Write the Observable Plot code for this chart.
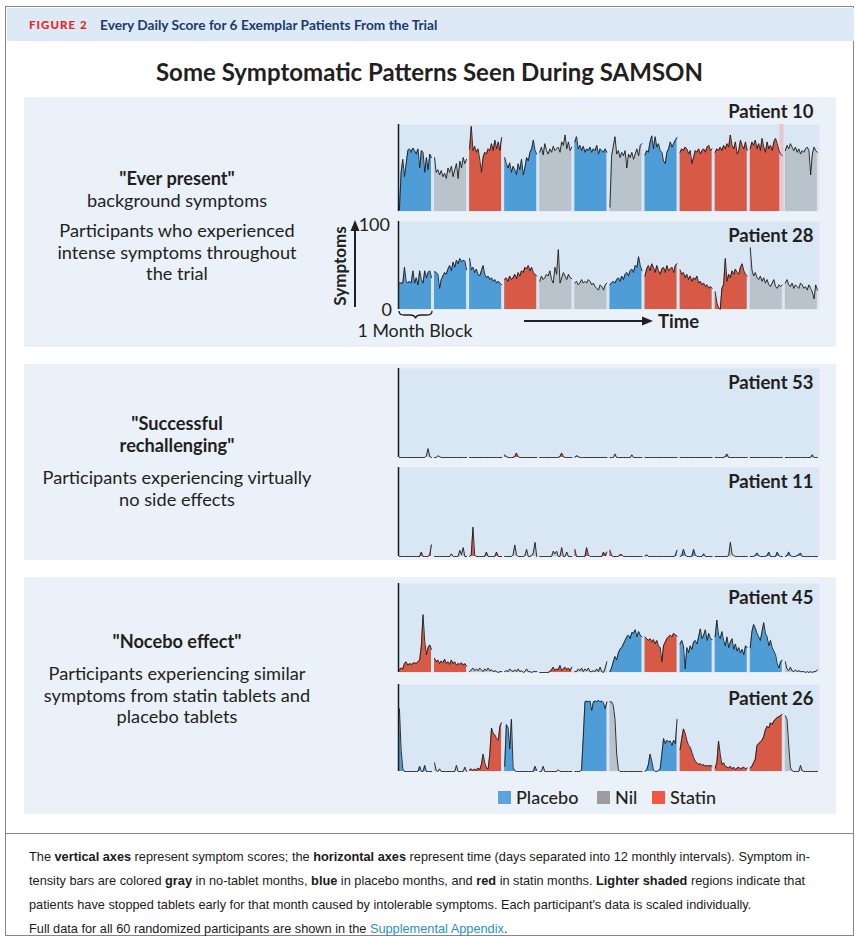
<!DOCTYPE html>
<html><head><meta charset="utf-8">
<script src="https://cdn.jsdelivr.net/npm/d3@7"></script>
<script src="https://cdn.jsdelivr.net/npm/@observablehq/plot@0.6"></script>
<style>
body{margin:0;background:#fff;}
#root{position:relative;width:859px;height:937px;overflow:hidden;font-family:Lato,"Open Sans",sans-serif;color:#231f20;}
.abs{position:absolute;}
.ctr{text-align:center;white-space:nowrap;}
.line{height:21.5px;line-height:21.5px;}
</style></head><body><div id="root"></div>
<script>
// ---------- DATA ----------
const typeNames = ["Placebo", "Nil", "Statin"];

const p10Types = ["Placebo","Nil","Statin","Placebo","Nil","Placebo","Nil","Placebo","Statin","Statin","Statin","Nil"];
const p10Values = [
 [2,45,60,40,55,70,72,68,73,70,66,72,50,70,68,45,62,48,66,62],
 [62,45,48,42,47,40,44,38,50,45,52,40,48,55,38,58,50,62,55,60],
 [72,98,70,75,68,72,60,45,62,68,66,72,70,78,70,82,72,80,70,85],
 [62,55,50,56,45,52,48,42,55,48,60,42,50,62,58,68,72,82,70,66],
 [68,74,65,78,70,66,72,68,75,70,72,74,68,80,76,88,72,80,70,74],
 [80,86,72,76,70,75,68,72,70,74,68,72,70,76,66,72,70,68,72,68],
 [5,64,75,86,66,70,62,68,64,70,50,66,62,68,60,66,72,64,76,78],
 [65,70,68,80,87,72,86,74,78,70,68,58,55,68,72,80,74,78,82,85],
 [68,72,70,74,72,66,70,55,62,70,68,72,66,70,72,68,74,76,70,72],
 [68,72,70,74,70,76,72,78,74,88,76,72,80,66,70,82,76,72,80,70],
 [72,80,76,82,72,78,70,84,74,68,80,72,76,70,80,84,78,70,66,64],
 [70,76,72,78,74,70,74,68,72,66,70,68,72,74,70,42,66,74,70,68]
];
// month index and first stopped day-index of "lighter shaded" (tablets stopped early)
const p10Stopped = [{month: 10, fromIndex: 17.5}];

const p28Types = ["Placebo","Placebo","Placebo","Statin","Nil","Nil","Placebo","Statin","Statin","Statin","Nil","Nil"];
const p28Values = [
 [30,30,30,48,32,30,32,30,44,30,36,28,44,34,30,44,36,42,44,36],
 [43,42,40,24,34,38,42,40,46,50,44,54,48,56,52,58,54,56,55,45],
 [58,45,48,42,46,40,38,44,50,40,36,38,34,36,32,34,30,32,30,28],
 [34,36,32,38,34,36,40,35,42,38,44,42,48,46,50,44,48,42,40,38],
 [32,38,34,36,40,38,44,34,30,48,40,68,30,36,42,38,34,40,36,35],
 [30,32,28,30,34,30,32,30,34,32,28,30,26,24,22,28,26,22,28,30],
 [28,30,32,30,34,36,32,38,34,40,42,38,44,46,42,50,48,60,50,44],
 [38,46,50,44,52,48,42,50,44,40,46,48,42,50,44,46,48,42,50,52],
 [45,40,42,36,40,34,38,32,36,34,38,30,32,28,30,26,28,24,26,24],
 [20,8,2,0,24,28,58,32,40,36,44,40,46,42,40,48,52,44,40,38],
 [70,45,38,42,36,34,38,32,36,30,34,28,26,30,34,26,24,28,26,28],
 [30,34,28,26,30,24,28,26,24,30,28,24,26,22,28,24,20,12,28,22]
];

const p53Types = ["Nil","Nil","Placebo","Statin","Statin","Placebo","Nil","Statin","Nil","Placebo","Statin","Placebo"];
const p53Values = [
 [0,0,0,0,0,0,0,0,0,0,0,0,0,0,0,0,2,10,1,0],
 [0,0,2,1,0,0,0,0,0,0,0,0,0,0,0,0,0,0,0,0],
 [0,0,0,0,0,0,0,0,0,0,0,0,0,0,0,0,0,0,0,0],
 [3,1,0,0,0,0,1,5,1,0,0,0,0,0,0,0,0,0,0,0],
 [0,0,0,0,0,0,0,0,0,0,0,0,1,5,1,0,0,0,0,0],
 [0,2,1,0,0,0,0,0,0,0,0,0,0,0,0,0,0,0,0,0],
 [0,0,0,4,0,0,0,0,0,0,0,0,0,3,0,0,0,0,0,0],
 [0,0,0,0,0,0,0,0,0,0,0,0,0,0,0,0,0,0,0,0],
 [0,0,0,0,0,0,0,0,0,0,0,0,0,0,0,0,0,0,0,0],
 [0,0,0,0,0,0,1,4,0,0,0,0,0,0,0,0,0,0,0,0],
 [0,0,0,0,0,0,0,0,0,0,0,0,0,0,0,0,0,0,0,0],
 [0,0,0,0,0,0,0,0,0,0,0,0,0,0,0,0,3,0,0,0]
];

const p11Types = ["Statin","Nil","Statin","Nil","Nil","Statin","Statin","Placebo","Placebo","Nil","Placebo","Placebo"];
const p11Values = [
 [0,0,0,0,0,0,0,0,0,0,0,0,0,5,0,0,0,0,2,13],
 [0,0,0,0,0,0,0,0,0,0,3,0,0,0,0,7,2,10,0,0],
 [0,2,33,2,0,0,0,0,0,0,5,0,0,0,0,0,5,0,0,0],
 [0,0,0,0,0,2,13,2,0,0,0,0,1,8,0,0,1,4,16,0],
 [0,0,0,0,0,0,0,0,6,3,6,0,0,10,0,0,5,0,0,0],
 [8,0,0,0,0,0,0,10,2,0,0,0,0,0,0,0,0,5,1,5],
 [7,1,0,0,0,0,2,2,0,0,0,0,0,0,0,0,0,0,0,0],
 [0,2,0,0,0,0,0,0,0,0,0,0,0,0,0,0,0,0,1,7],
 [0,1,8,2,0,0,0,0,8,2,0,0,0,0,3,0,0,0,0,0],
 [0,0,0,0,0,0,0,0,1,16,3,1,0,0,0,0,0,0,0,0],
 [0,0,0,1,4,1,0,0,0,0,1,5,0,0,0,0,5,1,0,0],
 [0,1,5,1,0,0,0,1,2,4,0,0,0,0,0,0,0,0,0,0]
];

const p45Types = ["Statin","Statin","Nil","Nil","Statin","Nil","Placebo","Statin","Placebo","Placebo","Placebo","Nil"];
const p45Values = [
 [3,5,4,10,12,8,10,9,10,11,10,12,14,30,65,35,20,28,31,26],
 [16,12,14,10,13,11,15,10,12,9,14,10,12,8,10,9,11,8,10,7],
 [1,3,5,2,4,2,5,3,1,4,2,5,2,3,1,2,1,0,1,1],
 [1,2,1,4,2,1,3,1,4,1,2,0,1,4,1,1,0,1,1,1],
 [0,0,0,0,0,0,1,3,6,2,4,3,8,2,4,6,3,5,2,6],
 [1,1,4,2,5,1,4,2,5,1,1,2,1,4,1,6,1,0,5,12],
 [1,5,12,18,14,22,26,28,32,36,40,42,38,45,44,48,40,46,42,40],
 [40,38,36,38,34,37,32,36,30,28,12,30,34,38,40,42,40,44,42,41],
 [32,36,30,4,28,22,30,26,34,36,32,40,49,38,42,48,36,44,38,37],
 [40,59,42,38,46,36,30,40,28,34,38,26,32,24,28,22,26,20,30,28],
 [28,46,54,50,44,40,36,46,56,44,40,30,36,28,24,20,10,5,12,14],
 [12,4,2,6,2,1,3,1,2,1,1,1,0,1,0,1,0,1,1,3]
];

const p26Types = ["Placebo","Nil","Statin","Placebo","Nil","Placebo","Nil","Placebo","Statin","Statin","Statin","Nil"];
const p26Values = [
 [72,25,3,0,0,0,0,0,0,0,0,0,6,0,0,7,0,0,0,0],
 [10,1,0,3,0,0,0,0,0,0,0,0,0,7,0,0,0,0,5,0],
 [2,3,1,3,1,4,2,8,20,10,4,3,20,50,44,42,38,36,52,56],
 [6,54,50,26,60,4,1,0,0,0,0,0,0,0,0,0,0,0,6,1],
 [0,0,6,0,0,0,0,0,0,0,0,2,0,0,0,0,0,0,0,0],
 [0,0,0,0,2,40,80,81,80,81,70,80,81,80,82,80,81,79,72,80],
 [80,80,76,60,20,2,0,0,0,0,0,0,0,0,0,0,0,0,0,0],
 [0,2,8,20,12,2,0,0,1,3,20,38,32,36,34,35,30,36,32,60],
 [25,38,49,44,36,30,28,22,16,12,10,8,9,7,8,6,7,6,7,6],
 [4,10,35,20,8,10,6,5,4,6,3,5,2,4,5,3,4,5,3,4],
 [4,6,10,14,30,32,34,36,40,48,52,50,56,54,58,60,62,63,64,66],
 [64,60,30,4,1,0,0,0,0,7,1,0,0,0,0,0,0,0,0,0]
];

// ---------- STYLE ----------
const fillColors = ["#4f9dd6", "#b9c3cc", "#d75a47"];
const legendColors = ["#5ba3dc", "#9d9d9d", "#ee5a43"];
const panelBg = "#d9e6f3";
const sectionBg = "#eaf1f9";

const root = document.getElementById("root");
function el(tag, css, html) {
  const e = document.createElement(tag);
  e.className = "abs";
  e.style.cssText = css;
  if (html !== undefined) e.innerHTML = html;
  root.appendChild(e);
  return e;
}

// outer frame + header
el("div", "left:5px;top:6px;width:847px;height:928px;border:1.5px solid #858585;");
el("div", "left:6.5px;top:7.5px;width:847px;height:33px;background:#dde9f5;");
el("div", "left:29px;top:16px;height:18px;line-height:18px;font-size:11.5px;font-weight:900;letter-spacing:1.05px;color:#e3262c;white-space:nowrap;", "FIGURE 2");
el("div", "left:100px;top:16px;height:18px;line-height:18px;font-size:13.7px;font-weight:700;color:#1c3a6b;white-space:nowrap;", "Every Daily Score for 6 Exemplar Patients From the Trial");
el("div", "left:0;width:859px;top:57px;height:30px;line-height:30px;font-size:24px;font-weight:700;", "<div class='ctr'>Some Symptomatic Patterns Seen During SAMSON</div>");

// sections
el("div", `left:24px;top:97px;width:812px;height:250px;background:${sectionBg};`);
el("div", `left:24px;top:364px;width:812px;height:196px;background:${sectionBg};`);
el("div", `left:24px;top:577px;width:812px;height:237px;background:${sectionBg};`);

function textBlock(top, lines) {
  const html = lines.map(([t, b]) => `<div class='ctr line' style='font-weight:${b ? 700 : 400}'>${t}</div>`).join("");
  el("div", `left:27px;width:300px;top:${top}px;font-size:18.2px;`, html);
}
textBlock(168, [["\"Ever present\"", 1], ["background symptoms", 0]]);
textBlock(220, [["Participants who experienced", 0], ["intense symptoms throughout", 0], ["the trial", 0]]);
textBlock(413, [["\"Successful", 1], ["rechallenging\"", 1]]);
textBlock(467, [["Participants experiencing virtually", 0], ["no side effects", 0]]);
textBlock(631, [["\"Nocebo effect\"", 1]]);
textBlock(663, [["Participants experiencing similar", 0], ["symptoms from statin tablets and", 0], ["placebo tablets", 0]]);

// ---------- PANELS ----------
const panels = [
  {label: "Patient 10", top: 124, h: 87, above: true, types: p10Types, values: p10Values, stopped: p10Stopped},
  {label: "Patient 28", top: 221, h: 88, types: p28Types, values: p28Values, stopped: []},
  {label: "Patient 53", top: 368, h: 89, types: p53Types, values: p53Values, stopped: []},
  {label: "Patient 11", top: 467, h: 89, types: p11Types, values: p11Values, stopped: []},
  {label: "Patient 45", top: 583, h: 89, types: p45Types, values: p45Values, stopped: []},
  {label: "Patient 26", top: 684, h: 87, types: p26Types, values: p26Values, stopped: []}
];

const dayStep = (n) => 27.4 / (n - 1);
function buildPoints(values, types) {
  const pts = [];
  values.forEach((arr, m) => arr.forEach((v, i) => pts.push({m, t: types[m], x: m * 30 + 0.8 + i * dayStep(arr.length), v})));
  return pts;
}

panels.forEach(p => {
  const pts = buildPoints(p.values, p.types);
  const stops = p.stopped.map(s => ({x1: s.month * 30 + 0.8 + s.fromIndex * dayStep(20), x2: s.month * 30 + 29.7}));
  const mt = 26, mb = 3, ml = 8, mr = 4;
  const chart = Plot.plot({
    width: 421 + ml + mr, height: p.h + mt + mb,
    marginTop: mt, marginBottom: mb, marginLeft: ml, marginRight: mr,
    x: {domain: [0, 360], axis: null},
    y: {domain: [0, 100], axis: null},
    color: {domain: typeNames, range: fillColors},
    style: {background: "transparent", overflow: "visible", fontFamily: "Lato, sans-serif"},
    marks: [
      Plot.frame({fill: panelBg, stroke: null}),
      Plot.areaY(pts, {x: "x", y: "v", z: "m", fill: "t", curve: "linear"}),
      Plot.rect(stops, {x1: "x1", x2: "x2", y1: 0, y2: 100, fill: "#e8c7ce"}),
      Plot.lineY(pts, {x: "x", y: "v", z: "m", stroke: "#1b1b1b", strokeWidth: 0.9, curve: "linear"}),
      Plot.ruleX([0], {stroke: "#1b1b1b", strokeWidth: 1.5}),
      Plot.text([p.label], {frameAnchor: "top-right", dx: -6, dy: p.above ? -12 : 15, lineAnchor: "middle",
        fontSize: 18.5, fontWeight: 700, fill: "#231f20"})
    ]
  });
  chart.style.position = "absolute";
  chart.style.left = (398 - ml) + "px";
  chart.style.top = (p.top - mt) + "px";
  root.appendChild(chart);
});

// ---------- ANNOTATIONS (P28 axis guide) ----------
el("div", "left:330px;width:60px;top:212px;height:24px;line-height:24px;font-size:18px;text-align:right;", "100");
el("div", "left:330px;width:62px;top:297px;height:24px;line-height:24px;font-size:18px;text-align:right;", "0");
el("div", "left:300px;top:255px;width:80px;height:22px;line-height:22px;font-size:17px;font-weight:700;text-align:center;white-space:nowrap;transform:rotate(-90deg);transform-origin:40px 11px;", "Symptoms");
el("div", "left:350px;width:130px;top:319px;height:22px;line-height:22px;font-size:17.8px;text-align:center;white-space:nowrap;", "1 Month Block");
el("div", "left:658px;top:309px;height:24px;line-height:24px;font-size:18.5px;font-weight:700;", "Time");
const ns = "http://www.w3.org/2000/svg";
const ov = document.createElementNS(ns, "svg");
ov.setAttribute("width", 859); ov.setAttribute("height", 937);
ov.style.cssText = "position:absolute;left:0;top:0;pointer-events:none;";
ov.innerHTML = `
 <line x1="355" y1="307" x2="355" y2="229" stroke="#231f20" stroke-width="2"/>
 <polygon points="355,220 350.5,231 359.5,231" fill="#231f20"/>
 <line x1="524" y1="321" x2="644" y2="321" stroke="#231f20" stroke-width="1.8"/>
 <polygon points="653,321 642,316.5 642,325.5" fill="#231f20"/>
 <path d="M399,311 Q399,315 404,315 L410,315 Q415,315 415.5,318.5 Q416,315 421,315 L427,315 Q432,315 432,311" fill="none" stroke="#231f20" stroke-width="1.3"/>`;
root.appendChild(ov);

// ---------- LEGEND ----------
const legendItems = [{n: "Placebo", x: 498}, {n: "Nil", x: 597}, {n: "Statin", x: 652}];
legendItems.forEach((it, i) => {
  el("div", `left:${it.x}px;top:791px;width:13px;height:13px;background:${legendColors[i]};`);
  el("div", `left:${it.x + 18}px;top:786px;height:22px;line-height:22px;font-size:18px;font-weight:500;white-space:nowrap;`, it.n);
});

// ---------- CAPTION ----------
el("div", "left:5px;top:833px;width:849px;height:0;border-top:1.5px solid #858585;");
el("div", "left:29px;top:845px;width:810px;font-family:'Liberation Sans Narrow','Arial Narrow',sans-serif;font-size:12.75px;line-height:24px;color:#1a1a1a;white-space:nowrap;",
 "The <b>vertical axes</b> represent symptom scores; the <b>horizontal axes</b> represent time (days separated into 12 monthly intervals). Symptom in-<br>" +
 "tensity bars are colored <b>gray</b> in no-tablet months, <b>blue</b> in placebo months, and <b>red</b> in statin months. <b>Lighter shaded</b> regions indicate that<br>" +
 "patients have stopped tablets early for that month caused by intolerable symptoms. Each participant's data is scaled individually.<br>" +
 "Full data for all 60 randomized participants are shown in the <span style='color:#2a8fc4'>Supplemental Appendix</span>.");
</script></body></html>
